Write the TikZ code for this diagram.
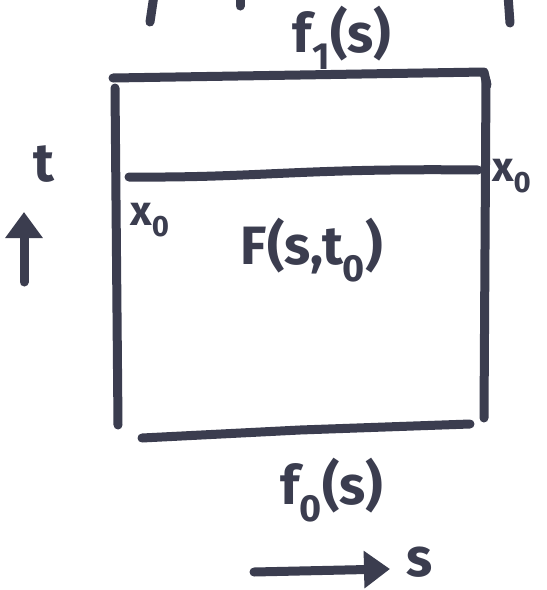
\documentclass[tikz,border=0pt]{standalone}
\usepackage{fontspec}
\setmainfont{Fira Sans}
\usetikzlibrary{arrows.meta}
\definecolor{ink}{HTML}{3B3D4F}
\tikzset{
  pen/.style={draw=ink, line width=9pt, line cap=round, line join=round},
  arr/.style={pen, -{Triangle[length=26pt,width=36pt]}},
  lbl/.style={text=ink, font=\fontsize{54}{56}\selectfont\bfseries, inner sep=0pt},
  small/.style={text=ink, font=\fontsize{42}{44}\selectfont\bfseries, inner sep=0pt}
}
\begin{document}
\begin{tikzpicture}[x=1pt,y=-1pt]
\useasboundingbox[fill=white] (0,0) rectangle (547,590);
% cut-off strokes at top edge
\draw[pen] (154,-5) -- (150,22);
\draw[pen] (240,-5) -- (240,6);
\draw[pen] (508,-5) -- (510,23);
% box
\draw[pen] (113,78) -- (300,75) -- (484,72) -- (487,85);
\draw[pen] (115,88) -- (118,425);
\draw[pen] (486,80) -- (484,418);
\draw[pen] (142,438) -- (300,430) -- (470,424);
% middle line
\coordinate (ml) at (129,177);
\coordinate (mr) at (478,170);
\draw[pen] (ml) .. controls (260,178) and (300,168) .. (mr);
% labels
\node[lbl] (top) at (342,38) {f$_{\mathbf 1}$(s)};
\node[lbl] (bot) at (332,490) {f$_{\mathbf 0}$(s)};
\node[lbl] (F) at (312,250) {F(s,t$_{\mathbf 0}$)};
\node[small] (xl) at (150,220) {x$_{\mathbf 0}$};
\node[small, anchor=west] (xr) at (492,176) {x$_{\mathbf 0}$};
\node[lbl] (t) at (44,164) {t};
\node[lbl] (s) at (420,562) {s};
% axis arrows
\coordinate (ta) at (24,282);
\coordinate (tb) at (24,212);
\draw[arr] (ta) -- (tb);
\coordinate (sa) at (254,572);
\coordinate (sb) at (390,569);
\draw[arr] (sa) -- (sb);
\end{tikzpicture}
\end{document}
